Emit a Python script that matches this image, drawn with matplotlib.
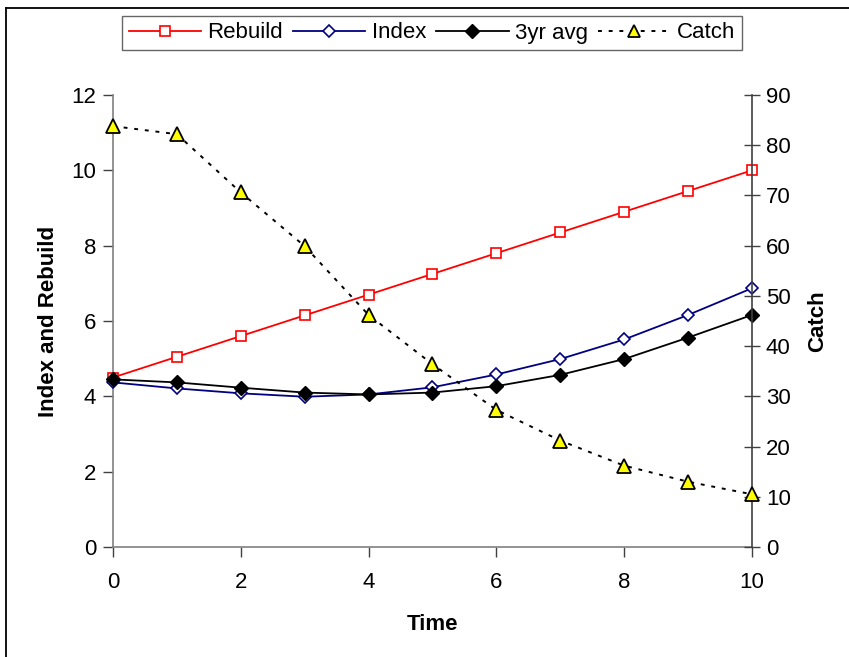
import matplotlib
matplotlib.use("Agg")
import matplotlib.pyplot as plt
from matplotlib.lines import Line2D

plt.rcParams['font.family'] = ['Liberation Sans', 'DejaVu Sans']

time = [0, 1, 2, 3, 4, 5, 6, 7, 8, 9, 10]
rebuild = [4.5, 5.05, 5.6, 6.15, 6.7, 7.25, 7.8, 8.35, 8.9, 9.45, 10.0]
index = [4.37, 4.21, 4.08, 3.99, 4.05, 4.24, 4.58, 4.99, 5.51, 6.16, 6.87]
avg3 = [4.45, 4.37, 4.23, 4.10, 4.05, 4.10, 4.27, 4.57, 4.99, 5.56, 6.16]
catch = [83.8, 82.2, 70.6, 59.9, 46.2, 36.4, 27.3, 21.2, 16.2, 13.0, 10.5]

FS = 16

fig = plt.figure(figsize=(8.49, 6.57), dpi=100)
ax = fig.add_axes([0.1331, 0.1674, 0.8857 - 0.1331, 0.8554 - 0.1674])
ax2 = ax.twinx()

ax.plot(time, rebuild, color='#ff0000', lw=1.3, marker='s', ms=7.5,
        mfc='white', mec='#ff0000', mew=1.2, label='Rebuild', zorder=3, clip_on=False)
ax.plot(time, index, color='#000080', lw=1.3, marker='D', ms=6.5,
        mfc='white', mec='#000080', mew=1.2, label='Index', zorder=3, clip_on=False)
ax.plot(time, avg3, color='black', lw=1.3, marker='D', ms=7.5,
        mfc='black', mec='black', label='3yr avg', zorder=4, clip_on=False)
ax2.plot(time, catch, color='black', lw=1.4, ls=(0, (2, 3.5)), marker='^', ms=9.5,
         mfc='#ffff00', mec='black', mew=1.3, label='Catch', zorder=5, clip_on=False)

ax.set_xlim(0, 10)
ax.set_ylim(0, 12)
ax2.set_ylim(0, 90)
ax.set_xticks(range(0, 11, 2))
ax.set_yticks(range(0, 13, 2))
ax2.set_yticks(range(0, 91, 10))

for a in (ax, ax2):
    a.spines['top'].set_visible(False)
    a.patch.set_visible(False)
ax2.spines['left'].set_visible(False)
ax2.spines['bottom'].set_visible(False)
ax.spines['right'].set_visible(False)
ax.spines['left'].set_color('#808080')
ax.spines['bottom'].set_color('#808080')
ax2.spines['right'].set_color('#404040')
for s in ('left', 'bottom'):
    ax.spines[s].set_linewidth(1.2)
ax2.spines['right'].set_linewidth(1.2)

ax.tick_params(axis='both', direction='out', length=7, width=1, color='#404040',
               labelsize=FS, pad=5)
ax.tick_params(axis='x', pad=11)
ax2.tick_params(axis='y', direction='inout', length=12, width=1, color='#404040',
                labelsize=FS, pad=4)

ax.set_xlabel('Time', fontsize=FS, fontweight='bold', labelpad=15)
ax.set_ylabel('Index and Rebuild', fontsize=FS, fontweight='bold', labelpad=9)
ax2.set_ylabel('Catch', fontsize=FS, fontweight='bold', labelpad=12)

handles = [
    Line2D([], [], color='#ff0000', lw=1.3, marker='s', ms=7.5, mfc='white', mec='#ff0000', mew=1.2),
    Line2D([], [], color='#000080', lw=1.3, marker='D', ms=6.5, mfc='white', mec='#000080', mew=1.2),
    Line2D([], [], color='black', lw=1.3, marker='D', ms=7.5, mfc='black', mec='black'),
    Line2D([], [], color='black', lw=1.4, ls=(0, (2, 3.5)), marker='^', ms=8.5, mfc='#ffff00', mec='black', mew=1.3),
]
leg = fig.legend(handles, ['Rebuild', 'Index', '3yr avg', 'Catch'], loc='center',
                 bbox_to_anchor=(432 / 849, 1 - 33 / 657), ncol=4, fontsize=FS,
                 frameon=True, fancybox=False, handlelength=3.25, handletextpad=0.3,
                 columnspacing=0.45, borderpad=0.3, borderaxespad=0)
leg.get_frame().set_edgecolor('#404040')
leg.get_frame().set_linewidth(1.0)

# outer chart frame
fig.add_artist(Line2D([6 / 849, 6 / 849], [0, 1 - 8 / 657], transform=fig.transFigure,
                      color='black', lw=1.3))
fig.add_artist(Line2D([6 / 849, 1], [1 - 8 / 657, 1 - 8 / 657], transform=fig.transFigure,
                      color='black', lw=1.3))

fig.savefig('out.png', dpi=100)
